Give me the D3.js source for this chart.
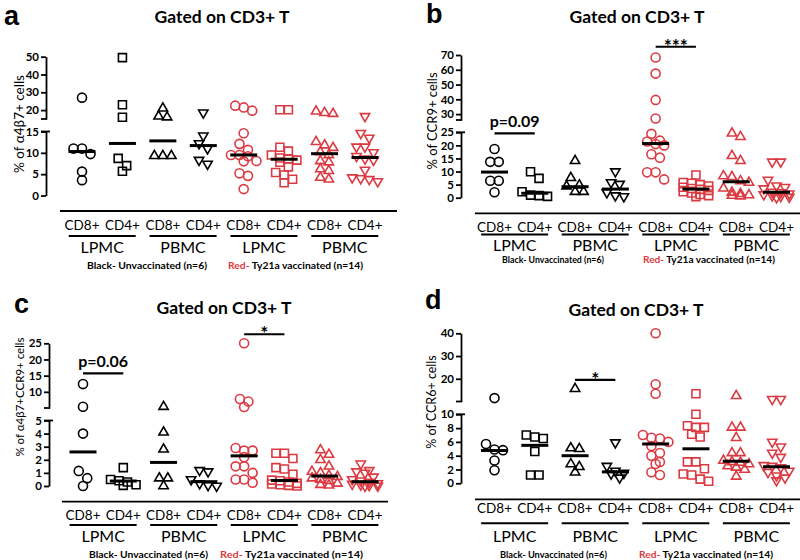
<!DOCTYPE html>
<html><head><meta charset="utf-8">
<script src="https://cdn.jsdelivr.net/npm/d3@7"></script>
<style>body{margin:0;background:#fff} svg{display:block}</style>
</head><body>
<svg id="chart" width="800" height="560"></svg>
<script>
// ---------- DATA ----------
const groupLabels = ["CD8+","CD4+","CD8+","CD4+","CD8+","CD4+","CD8+","CD4+"];
const tissueLabels = ["LPMC","PBMC","LPMC","PBMC"];
const titleText = "Gated on CD3+ T";
const legendBlack = "Black- Unvaccinated (n=6)";
const legendRedHead = "Red-";
const legendRedTail = " Ty21a vaccinated (n=14)";
const panelLetters = ["a","b","c","d"];
const yAxisLabels = ["% of \u03b14\u03b27+ cells","% of CCR9+ cells","% of \u03b14\u03b27+CCR9+ cells","% of CCR6+ cells"];

// panel a
const aValues = [
  [27, 11, 11, 9.7, 5.6, 3.6],
  [49.5, 23, 16, 8.7, 7.0, 5.7],
  [21, 16.5, 16, 9.3, 9.3, 9.3],
  [18.5, 14, 12.2, 11, 8.3, 7.4],
  [22.5, 21.5, 19.7, 14.6, 12.1, 10.7, 9.5, 9.5, 9.2, 8.1, 8.0, 5.2, 4.6, 1.5],
  [20.2, 20.2, 11.3, 10.4, 9.5, 8.8, 8.6, 8.3, 7.8, 6.7, 5.4, 4.8, 3.8, 3.0],
  [19.3, 18.5, 18, 12.6, 11.8, 11.2, 10.2, 9.5, 8.1, 7.8, 6.2, 5.8, 4.2, 3.8],
  [16.5, 14.6, 13.5, 11.4, 11.4, 10.1, 9.2, 8.6, 8.3, 6.0, 4.2, 4.0, 3.8, 3.3]
];
const aMedians = [10.3, 12.2, 12.8, 11.7, 9.5, 8.5, 9.8, 8.9];
const aLowerTicks = [0, 5, 10, 15];
const aUpperTicks = [20, 30, 40, 50];
const aLowerDomain = [0, 15];
const aUpperDomain = [15, 50];

// panel b
const bValues = [
  [18.6, 13.7, 13.7, 6.5, 6.5, 2.1],
  [9.9, 7.4, 2.3, 1.0, 0.8, 0.5],
  [14.1, 7.6, 4.8, 4.4, 2.3, 2.3],
  [10, 5.8, 5.2, 2.0, 0.8, 0.5],
  [68.3, 57.4, 39.6, 27, 24.4, 21.8, 21.5, 20.5, 20, 16.6, 15.3, 9.7, 9.7, 7.0],
  [8.7, 5.8, 5.5, 5.0, 4.5, 4.0, 3.5, 3.2, 2.8, 2.3, 1.8, 1.2, 0.8, 0.4],
  [24.6, 23.3, 16, 14.1, 8.3, 8.0, 6.4, 5.8, 3.6, 2.0, 1.5, 1.0, 0.8, 0.6],
  [13.7, 13.7, 6.8, 4.6, 4.0, 3.5, 2.2, 2.0, 1.5, 1.2, 0.8, 0.6, 0.3, 0.1]
];
const bMedians = [9.8, 1.7, 4.2, 3.3, 20.7, 3.3, 6.1, 2.1];
const bLowerTicks = [0, 5, 10, 15, 20, 25];
const bUpperTicks = [30, 40, 50, 60, 70];
const bLowerDomain = [0, 25];
const bUpperDomain = [26, 70];

// panel c
const cValues = [
  [12.4, 5.4, 4.0, 1.15, 0.6, 0],
  [1.4, 0.5, 0.4, 0.3, 0.1, 0.05],
  [5.4, 4.1, 2.8, 0.6, 0.6, 0],
  [1.2, 1.1, 0.5, 0.2, 0.05, 0],
  [25, 7.8, 7, 5.3, 2.9, 2.7, 2.7, 2.2, 1.5, 1.5, 1.0, 0.5, 0.5, 0.25],
  [2.5, 2.5, 2.1, 1.4, 1.3, 0.9, 0.45, 0.4, 0.3, 0.2, 0.15, 0.1, 0.05, 0],
  [2.75, 2.4, 2.0, 1.5, 1.1, 1.0, 0.8, 0.7, 0.6, 0.5, 0.4, 0.2, 0.1, 0.05],
  [1.7, 1.2, 1.1, 1.0, 0.7, 0.5, 0.4, 0.3, 0.2, 0.15, 0.1, 0.05, 0, 0]
];
const cMedians = [2.6, 0.38, 1.8, 0.33, 2.3, 0.42, 0.76, 0.33];
const cLowerTicks = [0, 1, 2, 3, 4, 5];
const cUpperTicks = [10, 15, 20, 25];
const cLowerDomain = [0, 5];
const cUpperDomain = [5, 25];

// panel d
const dValues = [
  [11.5, 5.7, 4.9, 4.8, 3.3, 1.9],
  [7.0, 6.7, 6.5, 4.6, 1.2, 1.2],
  [15.6, 5.1, 5.0, 2.8, 2.4, 1.6],
  [5.9, 2.5, 1.8, 1.5, 1.4, 0.8],
  [40, 17.6, 13.4, 7.0, 6.6, 6.5, 6.0, 5.4, 4.4, 4.0, 3.1, 2.8, 1.6, 1.2],
  [13.4, 10, 8.35, 8.1, 8.1, 7.1, 6.7, 3.1, 3.1, 2.1, 1.35, 1.2, 0.6, 0.3],
  [12.5, 8.1, 8.1, 6.6, 4.4, 4.4, 3.3, 3.1, 3.0, 2.8, 2.5, 2.3, 2.0, 1.0],
  [11, 11, 6.0, 5.3, 4.4, 3.8, 2.6, 2.5, 2.3, 1.8, 1.6, 1.1, 0.8, 0.4]
];
const dMedians = [4.75, 5.5, 4.0, 1.65, 5.7, 5.0, 3.2, 2.4];
const dLowerTicks = [0, 2, 4, 6, 8, 10];
const dUpperTicks = [20, 30, 40];
const dLowerDomain = [0, 10];
const dUpperDomain = [10, 40];

// significance bars: [fromGroup, toGroup, label, value, segment]
const bSig = [[0, 1, "p=0.09", 24.6, "lower"], [4, 5, "***", 75.6, "upper"]];
const cSig = [[0, 1, "p=0.06", 15.7, "upper"], [4, 5, "*", 27.8, "upper"]];
const dSig = [[2, 3, "*", 19.5, "upper"]];
const aSig = [];

// ---------- LAYOUT ----------
const layouts = [
  {values:aValues, medians:aMedians, loT:aLowerTicks, upT:aUpperTicks, loD:aLowerDomain, upD:aUpperDomain, sig:aSig,
   axisX:46, x0:82, x1:365, loR:[195.5,131.5], upR:[119,56.7], baseY:211, baseX:[60,397],
   catY:225, ulY:236, tisY:247, legY:265, legX:[87,228], legW:[120,135],
   title:[222,17], letter:[4,25], ylab:[19,124], ylabSize:13.5},
  {values:bValues, medians:bMedians, loT:bLowerTicks, upT:bUpperTicks, loD:bLowerDomain, upD:bUpperDomain, sig:bSig,
   axisX:461, x0:494.5, x1:776.5, loR:[197.7,132.3], upR:[120,55], baseY:213.3, baseX:[475,800],
   catY:227, ulY:234.5, tisY:245, legY:259.5, legX:[502,643], legW:[102,132],
   title:[637,17], letter:[426,23], ylab:[432,121], ylabSize:13},
  {values:cValues, medians:cMedians, loT:cLowerTicks, upT:cUpperTicks, loD:cLowerDomain, upD:cUpperDomain, sig:cSig,
   axisX:49, x0:83, x1:365, loR:[486,420.5], upR:[408,343.3], baseY:501.7, baseX:[62,388],
   catY:515.5, ulY:525, tisY:536, legY:554, legX:[89,220], legW:[119,143],
   title:[224,308], letter:[14,313], ylab:[20,397], ylabSize:11.5},
  {values:dValues, medians:dMedians, loT:dLowerTicks, upT:dUpperTicks, loD:dLowerDomain, upD:dUpperDomain, sig:dSig,
   axisX:461, x0:494.5, x1:776.5, loR:[483.3,414.3], upR:[401.5,333.3], baseY:499.3, baseX:[475,800],
   catY:508.5, ulY:523.3, tisY:536, legY:554, legX:[500,639], legW:[107,134],
   title:[636,310], letter:[425,309], ylab:[432,402], ylabSize:12.5}
];

const RED = "#dc3a42";
const FONT = "Lato, 'Open Sans', sans-serif";
const svg = d3.select("#chart");

const shapeTypes = [d3.symbolCircle, d3.symbolSquare, d3.symbolTriangle, d3.symbolTriangle];
const shapeSizes = [64, 64, 38, 38];

function dodge(vals, yOf, cx, spacing, thresh, maxRow) {
  const pts = vals.map(v => ({v, y: yOf(v)})).sort((a, b) => a.y - b.y);
  const rows = []; let cur = [];
  pts.forEach(p => {
    if (cur.length && (p.y - cur[0].y > thresh || cur.length >= maxRow)) { rows.push(cur); cur = []; }
    cur.push(p);
  });
  if (cur.length) rows.push(cur);
  rows.forEach(r => { const n = r.length; r.forEach((p, i) => p.x = cx + (i - (n - 1) / 2) * spacing); });
  return pts;
}

layouts.forEach((L, pi) => {
  const g = svg.append("g");
  const x = d3.scalePoint().domain(d3.range(8)).range([L.x0, L.x1]);
  const yLo = d3.scaleLinear().domain(L.loD).range(L.loR);
  const yUp = d3.scaleLinear().domain(L.upD).range(L.upR);
  const yOf = v => v > L.loD[1] ? yUp(v) : yLo(v);

  // letter + title
  g.append("text").attr("x", L.letter[0]).attr("y", L.letter[1]).text(panelLetters[pi])
    .attr("font-family", "'Liberation Sans', Arial, sans-serif").attr("font-weight", "bold").attr("font-size", 27);
  g.append("text").attr("x", L.title[0]).attr("y", L.title[1]).attr("dy", "0.35em").attr("text-anchor", "middle")
    .text(titleText).attr("font-family", FONT).attr("font-weight", "bold").attr("font-size", 17.5);

  // y axes
  [[yLo, L.loT], [yUp, L.upT]].forEach(([sc, ticks]) => {
    const ax = g.append("g").attr("transform", `translate(${L.axisX},0)`)
      .call(d3.axisLeft(sc).tickValues(ticks).tickFormat(d3.format("d")).tickSize(5).tickSizeOuter(0).tickPadding(2));
    ax.select(".domain").attr("stroke-width", 1.8);
    ax.selectAll(".tick line").attr("stroke-width", 1.8);
    ax.selectAll(".tick text").attr("font-family", FONT).attr("font-weight", "bold").attr("font-size", 11.5).attr("fill", "#000");
  });
  // break caps
  g.append("line").attr("x1", L.axisX - 5).attr("x2", L.axisX + 4).attr("y1", yLo(L.loD[1])).attr("y2", yLo(L.loD[1]))
    .attr("stroke", "#000").attr("stroke-width", 1.8);
  g.append("line").attr("x1", L.axisX - 5).attr("x2", L.axisX + 1).attr("y1", yUp(L.upD[0])).attr("y2", yUp(L.upD[0]))
    .attr("stroke", "#000").attr("stroke-width", 1.8);

  // y label
  g.append("text").attr("transform", `translate(${L.ylab[0]},${L.ylab[1]}) rotate(-90)`).attr("text-anchor", "middle")
    .attr("dy", "0.35em").text(yAxisLabels[pi]).attr("font-family", FONT).attr("font-size", L.ylabSize);

  // points
  L.values.forEach((vals, gi) => {
    const col = gi < 4 ? "#000" : RED;
    const pts = dodge(vals, yOf, x(gi), 8.5, 7.5, 4);
    const sym = d3.symbol().type(shapeTypes[gi % 4]).size(shapeSizes[gi % 4]);
    g.append("g").selectAll("path").data(pts).join("path")
      .attr("d", sym)
      .attr("transform", d => `translate(${d.x},${d.y})` + (gi % 4 === 3 ? " rotate(180)" : ""))
      .attr("fill", "none").attr("stroke", col).attr("stroke-width", 1.6);
  });
  // medians
  g.append("g").selectAll("line").data(L.medians).join("line")
    .attr("x1", (d, i) => x(i) - 13.5).attr("x2", (d, i) => x(i) + 13.5)
    .attr("y1", d => yOf(d)).attr("y2", d => yOf(d))
    .attr("stroke", "#000").attr("stroke-width", 3);

  // significance
  L.sig.forEach(([a, b, lab, val, seg]) => {
    const yy = seg === "upper" ? yUp(val) : yLo(val);
    g.append("line").attr("x1", x(a)).attr("x2", x(b)).attr("y1", yy).attr("y2", yy).attr("stroke", "#000").attr("stroke-width", 2.2);
    const star = lab.indexOf("*") === 0;
    g.append("text").attr("x", (x(a) + x(b)) / 2).attr("y", star ? yy + 6 : yy - 6).attr("text-anchor", "middle")
      .text(lab).attr("font-family", FONT).attr("font-weight", "bold").attr("font-size", star ? 19 : 16);
  });

  // x baseline and labels
  g.append("line").attr("x1", L.baseX[0]).attr("x2", L.baseX[1]).attr("y1", L.baseY).attr("y2", L.baseY)
    .attr("stroke", "#000").attr("stroke-width", 1.8);
  g.append("g").selectAll("text").data(groupLabels).join("text")
    .attr("x", (d, i) => x(i)).attr("y", L.catY).attr("dy", "0.35em").attr("text-anchor", "middle").text(d => d)
    .attr("font-family", FONT).attr("font-size", 13.5);
  g.append("g").selectAll("line").data(tissueLabels).join("line")
    .attr("x1", (d, i) => (x(2 * i) + x(2 * i + 1)) / 2 - 33.5).attr("x2", (d, i) => (x(2 * i) + x(2 * i + 1)) / 2 + 33.5)
    .attr("y1", L.ulY).attr("y2", L.ulY).attr("stroke", "#000").attr("stroke-width", 2);
  g.append("g").selectAll("text").data(tissueLabels).join("text")
    .attr("x", (d, i) => (x(2 * i) + x(2 * i + 1)) / 2).attr("y", L.tisY).attr("dy", "0.35em").attr("text-anchor", "middle")
    .text(d => d).attr("font-family", FONT).attr("font-size", 16);

  // legend text
  g.append("text").attr("x", L.legX[0]).attr("y", L.legY).attr("dy", "0.35em").text(legendBlack)
    .attr("font-family", FONT).attr("font-weight", "bold").attr("font-size", 10)
    .attr("textLength", L.legW[0]).attr("lengthAdjust", "spacingAndGlyphs");
  const rt = g.append("text").attr("x", L.legX[1]).attr("y", L.legY).attr("dy", "0.35em")
    .attr("font-family", FONT).attr("font-weight", "bold").attr("font-size", 10)
    .attr("textLength", L.legW[1]).attr("lengthAdjust", "spacingAndGlyphs");
  rt.append("tspan").attr("fill", RED).text(legendRedHead);
  rt.append("tspan").attr("fill", "#000").text(legendRedTail);
});
</script>
</body></html>
